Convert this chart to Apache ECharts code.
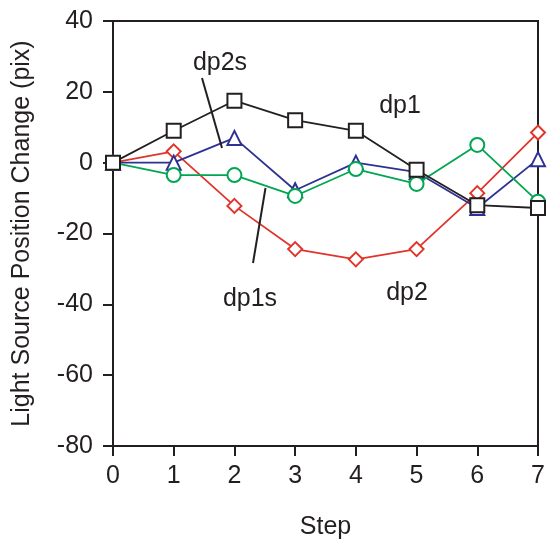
<!DOCTYPE html>
<html><head><meta charset="utf-8">
<script src="https://cdn.jsdelivr.net/npm/echarts@6/dist/echarts.min.js"></script>
<style>html,body{margin:0;padding:0;background:#fff}#c{width:549px;height:542px}</style>
</head><body><div id="c"></div>
<script>
var steps = [0, 1, 2, 3, 4, 5, 6, 7];
var dp1  = [0, 9, 17.5, 12, 9, -2, -12, -12.8];
var dp2s = [0, 0, 7, -7.8, 0, -2.7, -12.8, 1];
var dp1s = [0, -3.5, -3.5, -9.4, -1.8, -6, 5, -11];
var dp2  = [0, 3.2, -12.2, -24.4, -27.3, -24.4, -8.6, 8.5];
var yTicks = [-80, -60, -40, -20, 0, 20, 40];

var ink = '#231f20';
var FONT = 'Liberation Sans, Arial, Helvetica, sans-serif';
function pairs(v){ return steps.map(function(s,i){ return [s, v[i]]; }); }
function ser(name, data, color, symbol, z){
  return {name:name, type:'line', data:pairs(data), symbol:symbol, symbolSize:14,
    z:z, lineStyle:{color:color, width:1.8}, itemStyle:{color:'#fff', borderColor:color, borderWidth:2},
    emphasis:{disabled:true}, animation:false};
}
var chart = echarts.init(document.getElementById('c'), null, {renderer:'canvas'});
chart.setOption({
  backgroundColor:'#fff',
  animation:false,
  grid:{left:113, right:11, top:21, bottom:96, outerBoundsMode:'none', containLabel:false,
    show:true, borderColor:ink, borderWidth:2, backgroundColor:'transparent'},
  xAxis:{type:'value', min:0, max:7, interval:1, name:'Step', nameLocation:'middle', nameGap:69,
    nameTextStyle:{fontSize:25, color:ink, fontFamily:FONT},
    axisLine:{onZero:false, lineStyle:{color:ink, width:2}}, axisTick:{length:10, lineStyle:{color:ink, width:2}},
    axisLabel:{fontSize:25, color:ink, fontFamily:FONT, margin:18}, splitLine:{show:false}},
  yAxis:{type:'value', min:-80, max:40, interval:20, name:'Light Source Position Change (pix)',
    nameLocation:'middle', nameGap:78, nameTextStyle:{fontSize:25, color:ink, fontFamily:FONT},
    axisLine:{show:true, onZero:false, lineStyle:{color:ink, width:2}}, axisTick:{show:true, length:10, lineStyle:{color:ink, width:2}},
    axisLabel:{fontSize:25, color:ink, fontFamily:FONT, margin:20,
      formatter:function(v){ return yTicks.indexOf(v) >= 0 ? String(v) : ''; }},
    splitLine:{show:false}},
  series:[
    ser('dp2', dp2, '#e0352b', 'diamond', 2),
    ser('dp2s', dp2s, '#2e3192', 'triangle', 3),
    ser('dp1s', dp1s, '#00a651', 'circle', 4),
    ser('dp1', dp1, ink, 'rect', 5)
  ],
  graphic:[
    {type:'text', x:220, y:63, style:{text:'dp2s', fill:ink, font:'25px '+FONT, textAlign:'center', textVerticalAlign:'middle'}},
    {type:'text', x:400, y:106, style:{text:'dp1', fill:ink, font:'25px '+FONT, textAlign:'center', textVerticalAlign:'middle'}},
    {type:'text', x:250, y:299, style:{text:'dp1s', fill:ink, font:'25px '+FONT, textAlign:'center', textVerticalAlign:'middle'}},
    {type:'text', x:407, y:293, style:{text:'dp2', fill:ink, font:'25px '+FONT, textAlign:'center', textVerticalAlign:'middle'}},
    {type:'line', shape:{x1:202, y1:78, x2:222, y2:148}, style:{stroke:ink, lineWidth:2}, z:10},
    {type:'line', shape:{x1:265.5, y1:188, x2:253, y2:263}, style:{stroke:ink, lineWidth:2}, z:10}
  ]
});
</script></body></html>
